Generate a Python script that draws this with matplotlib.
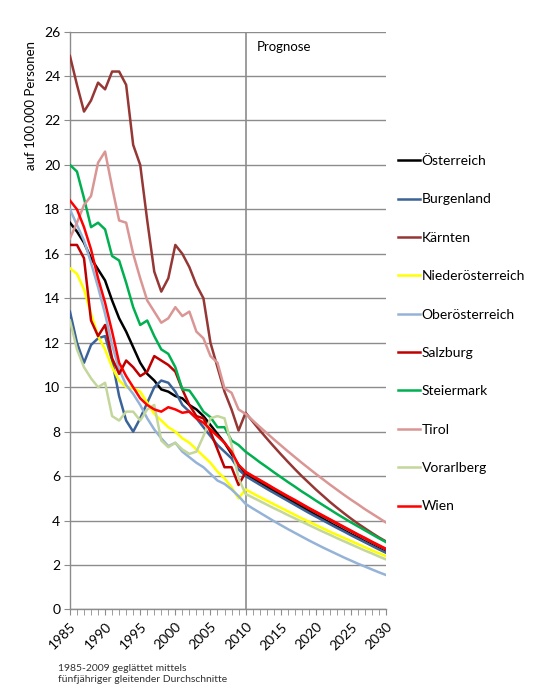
import matplotlib
matplotlib.use('Agg')

import matplotlib.pyplot as plt
from matplotlib.ticker import MultipleLocator

plt.rcParams['font.family'] = ['Lato', 'DejaVu Sans']

# --- Daten (1985-2009 geglättet, ab 2010 Prognose) ---
years = list(range(1985, 2031))

oesterreich = [17.4, 17.0, 16.5, 15.8, 15.3, 14.8, 13.9, 13.1, 12.5, 11.8,
               11.1, 10.6, 10.3, 9.9, 9.8, 9.6, 9.5, 9.2, 9.0, 8.7,
               8.3, 7.9, 7.5, 7.0, 6.5,
               6.10, 5.91, 5.72, 5.53, 5.34, 5.15, 4.97, 4.79, 4.61, 4.43,
               4.25, 4.08, 3.90, 3.73, 3.56, 3.39, 3.23, 3.06, 2.90, 2.74, 2.58]
burgenland = [13.4, 12.0, 11.1, 11.9, 12.2, 12.3, 11.2, 9.6, 8.5, 8.0,
              8.6, 9.3, 10.0, 10.3, 10.2, 9.8, 9.2, 8.9, 8.6, 8.2,
              7.8, 7.4, 7.1, 6.8, 6.3,
              6.00, 5.81, 5.62, 5.43, 5.25, 5.07, 4.89, 4.71, 4.53, 4.35,
              4.18, 4.01, 3.84, 3.67, 3.51, 3.34, 3.18, 3.02, 2.86, 2.70, 2.55]
kaernten = [24.9, 23.6, 22.4, 22.9, 23.7, 23.4, 24.2, 24.2, 23.6, 20.9,
            20.0, 17.5, 15.2, 14.3, 14.9, 16.4, 16.0, 15.4, 14.6, 14.0,
            12.0, 10.9, 9.8, 9.0, 8.05,
            8.85, 8.46, 8.07, 7.70, 7.34, 6.99, 6.65, 6.32, 6.00, 5.70,
            5.40, 5.12, 4.84, 4.58, 4.33, 4.09, 3.86, 3.65, 3.44, 3.24, 3.06]
niederoesterreich = [15.35, 15.1, 14.4, 13.3, 12.3, 11.7, 10.9, 10.3, 10.0, 9.95,
                     9.8, 9.3, 8.8, 8.5, 8.2, 8.0, 7.7, 7.5, 7.2, 6.9,
                     6.6, 6.2, 5.9, 5.5, 5.0,
                     5.40, 5.23, 5.06, 4.90, 4.74, 4.58, 4.42, 4.26, 4.10, 3.95,
                     3.80, 3.65, 3.50, 3.36, 3.22, 3.08, 2.94, 2.80, 2.66, 2.53, 2.40]
oberoesterreich = [18.0, 17.3, 16.6, 15.6, 14.5, 13.3, 11.9, 10.8, 10.1, 9.7,
                   9.2, 8.6, 8.1, 7.7, 7.35, 7.5, 7.1, 6.85, 6.6, 6.4,
                   6.1, 5.8, 5.65, 5.4, 5.1,
                   4.75, 4.55, 4.36, 4.17, 3.98, 3.80, 3.62, 3.45, 3.28, 3.11,
                   2.95, 2.79, 2.64, 2.49, 2.34, 2.20, 2.06, 1.93, 1.80, 1.67, 1.55]
salzburg = [16.4, 16.4, 15.8, 13.0, 12.3, 12.8, 11.3, 10.6, 11.2, 10.9,
            10.5, 10.7, 11.4, 11.2, 11.0, 10.7, 9.9, 9.2, 8.7, 8.6,
            8.0, 7.2, 6.4, 6.4, 5.6,
            6.17, 5.98, 5.80, 5.62, 5.43, 5.25, 5.07, 4.90, 4.72, 4.54,
            4.37, 4.20, 4.03, 3.86, 3.69, 3.52, 3.35, 3.19, 3.02, 2.86, 2.70]
steiermark = [20.0, 19.7, 18.5, 17.2, 17.4, 17.1, 15.9, 15.7, 14.7, 13.6,
              12.8, 13.0, 12.3, 11.7, 11.5, 10.9, 9.9, 9.85, 9.4, 8.9,
              8.65, 8.2, 8.2, 7.6, 7.4,
              7.10, 6.87, 6.63, 6.41, 6.18, 5.96, 5.74, 5.53, 5.31, 5.11,
              4.90, 4.70, 4.50, 4.30, 4.11, 3.92, 3.74, 3.56, 3.38, 3.20, 3.03]
tirol = [16.7, 17.4, 18.2, 18.6, 20.1, 20.6, 19.0, 17.5, 17.4, 16.0,
         14.9, 13.9, 13.4, 12.9, 13.1, 13.6, 13.2, 13.4, 12.5, 12.2,
         11.4, 11.1, 9.95, 9.75, 9.0,
         8.80, 8.51, 8.22, 7.94, 7.66, 7.39, 7.12, 6.86, 6.60, 6.35,
         6.10, 5.86, 5.62, 5.39, 5.16, 4.94, 4.73, 4.51, 4.31, 4.11, 3.91]
vorarlberg = [13.0, 11.7, 10.9, 10.4, 10.0, 10.2, 8.7, 8.5, 8.9, 8.9,
              8.5, 9.0, 9.2, 7.6, 7.3, 7.5, 7.2, 7.0, 7.1, 7.8,
              8.6, 8.7, 8.6, 7.4, 5.9,
              5.20, 5.04, 4.88, 4.72, 4.56, 4.41, 4.25, 4.10, 3.95, 3.80,
              3.65, 3.50, 3.36, 3.21, 3.07, 2.93, 2.79, 2.65, 2.52, 2.38, 2.25]
wien = [18.4, 18.0, 17.2, 16.2, 14.9, 13.8, 12.5, 11.1, 10.5, 10.0,
        9.5, 9.2, 9.0, 8.9, 9.1, 9.0, 8.85, 8.9, 8.6, 8.4,
        8.1, 7.8, 7.5, 7.1, 6.5,
        6.20, 6.01, 5.83, 5.65, 5.46, 5.28, 5.10, 4.93, 4.75, 4.57,
        4.40, 4.23, 4.06, 3.89, 3.72, 3.55, 3.38, 3.22, 3.05, 2.89, 2.73]

labels = ['Österreich', 'Burgenland', 'Kärnten', 'Niederösterreich',
          'Oberösterreich', 'Salzburg', 'Steiermark', 'Tirol',
          'Vorarlberg', 'Wien']
colors = ['#000000', '#3B6397', '#953735', '#FFFF00', '#95B3D7',
          '#C00000', '#00B050', '#D99694', '#C3D69B', '#FF0000']
values = [oesterreich, burgenland, kaernten, niederoesterreich,
          oberoesterreich, salzburg, steiermark, tirol, vorarlberg, wien]

GRID = '#8C8C8C'

fig = plt.figure(figsize=(5.34, 6.93), dpi=100)
ax = fig.add_axes([0.131, 0.1205, 0.592, 0.834])

handles = []
for lab, col, vals in zip(labels, colors, values):
    line, = ax.plot(years, vals, color=col, lw=1.8, label=lab,
                    solid_joinstyle='round', zorder=3)
    handles.append(line)

# Trennlinie Prognose
ax.axvline(2010, color='#8C8C8C', lw=1.2, zorder=2)
ax.text(2011.6, 25.3, 'Prognose', fontsize=9.5, va='center', ha='left')

ax.set_xlim(1985, 2030)
ax.set_ylim(0, 26)
ax.yaxis.set_major_locator(MultipleLocator(2))
ax.set_xticks(range(1985, 2031, 5))
ax.set_xticks(years, minor=True)
ax.set_xticklabels([str(y) for y in range(1985, 2031, 5)], rotation=45,
                   ha='right', va='top', rotation_mode='anchor', fontsize=10)
ax.tick_params(axis='y', labelsize=10, length=4, color=GRID, pad=3)
ax.tick_params(axis='x', which='both', length=4, color=GRID, pad=4)

ax.grid(axis='y', color=GRID, lw=1.0)
ax.set_axisbelow(True)
for s in ['top', 'right']:
    ax.spines[s].set_visible(False)
for s in ['left', 'bottom']:
    ax.spines[s].set_color(GRID)
    ax.spines[s].set_linewidth(1.0)

fig.text(0.058, 0.848, 'auf 100.000 Personen', rotation=90,
         ha='center', va='center', fontsize=9.5)

fig.legend(handles, labels, loc='upper left',
           bbox_to_anchor=(398 / 534, 1 - 155 / 693),
           frameon=False, fontsize=10, handlelength=1.6, handletextpad=0.1,
           labelspacing=1.9, borderpad=0, borderaxespad=0)

fig.text(58 / 534, 1 - 674 / 693,
         '1985-2009 geglättet mittels\nfünfjähriger gleitender Durchschnitte',
         fontsize=7.5, va='center', ha='left', color='#333333',
         linespacing=1.35)

fig.savefig('out.png', dpi=100)
